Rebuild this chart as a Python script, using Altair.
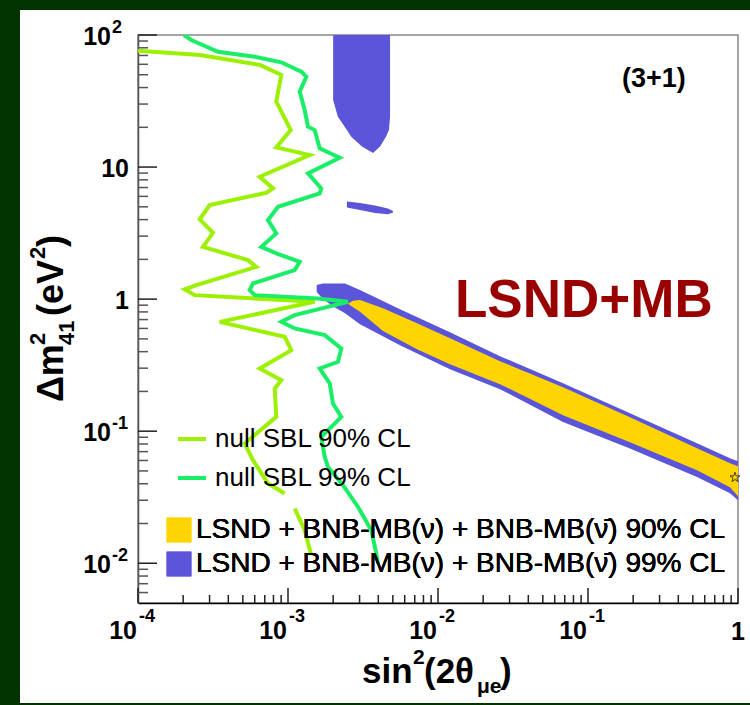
import altair as alt
import pandas as pd

FONT = "Liberation Sans"

# ---------------- data ----------------
# null SBL 90% CL contour (two pieces)
null90_x = [0.0001, 0.0002591, 0.000651, 0.0009023, 0.0008356, 0.001042, 0.0008356, 0.001395,
            0.000648, 0.0007943, 0.0007168, 0.0003006, 0.0002579, 0.0003162, 0.0002712, 0.0005412,
            0.0006146, 0.0002447, 0.0002048, 0.0002388, 0.001507, 0.0003505, 0.0009506, 0.001052,
            0.000648, 0.0009023, 0.0008154, 0.0008356, 0.0005145, 0.0005843, 0.0007356, 0.0009506]
null90_y = [76.05, 70.55, 59.27, 49.77, 31.24, 19.07, 14.10, 12.33,
            8.444, 6.896, 6.388, 5.154, 4.016, 3.179, 2.490, 1.975,
            1.756, 1.277, 1.184, 1.072, 0.9539, 0.6730, 0.5181, 0.4108,
            0.2985, 0.2434, 0.2107, 0.1283, 0.08068, 0.0603, 0.04016, 0.03373]
null90b_x = [0.001108, 0.001292, 0.00143]
null90b_y = [0.02597, 0.01778, 0.0115]

# null SBL 99% CL contour
null99_x = [0.0002026, 0.0002266, 0.0003415, 0.0005998, 0.0009023, 0.001227, 0.001324, 0.001197,
            0.001292, 0.001359, 0.001507, 0.001627, 0.002211, 0.001359, 0.001667, 0.001627,
            0.0008577, 0.0007356, 0.0008356, 0.0006637, 0.0008356, 0.001197, 0.001108, 0.0005843,
            0.0005555, 0.0005998, 0.001585, 0.002512, 0.001108, 0.0009023, 0.001108, 0.001757,
            0.002266, 0.002154, 0.001627, 0.001897, 0.001995, 0.002266, 0.001667, 0.001757,
            0.001848, 0.002326, 0.002929, 0.003592, 0.003879, 0.003981]
null99_y = [100, 91.64, 74.72, 68.48, 62.13, 52.72, 48.32, 37.20,
            27.03, 20.20, 19.07, 13.86, 11.76, 8.960, 6.896, 6.322,
            5.003, 3.967, 3.146, 2.490, 2.219, 1.917, 1.658, 1.315,
            1.170, 1.072, 1.012, 0.9539, 0.7565, 0.6730, 0.5998, 0.5337,
            0.4232, 0.3350, 0.2985, 0.2298, 0.1621, 0.1283, 0.09052, 0.06387,
            0.05364, 0.03899, 0.02669, 0.01778, 0.01185, 0.00995]

# LSND + MB allowed band, 99% CL
band99_x = [0.001553, 0.001711, 0.001995, 0.002399, 0.003020, 0.005580, 0.01202,
            0.02591, 0.06813, 0.1905, 0.5329, 0.8844, 1.0]
band99_lo = [1.130, 1.000, 0.885, 0.7832, 0.6466, 0.4482, 0.2949,
             0.2080, 0.1176, 0.0739, 0.04506, 0.03391, 0.0300]
band99_hi = [1.277, 1.315, 1.315, 1.315, 1.170, 0.8397, 0.5623,
             0.3700, 0.2310, 0.1369, 0.08111, 0.06243, 0.05925]
# LSND + MB allowed band, 90% CL
band90_x = [0.002512, 0.002713, 0.003020, 0.004299, 0.007244, 0.01202,
            0.02591, 0.06813, 0.1905, 0.5329, 0.8844, 1.0]
band90_lo = [0.9245, 0.8697, 0.8012, 0.5724, 0.4181, 0.3218,
             0.2270, 0.1322, 0.08253, 0.05064, 0.03765, 0.03218]
band90_hi = [0.9245, 0.974, 0.9827, 0.8547, 0.6580, 0.5064,
             0.3391, 0.2154, 0.1277, 0.07432, 0.05722, 0.05430]
# 99% CL island at high dm2
top99_y = [100, 32.2, 24.0, 19.1, 17.0, 14.3, 12.8]
top99_xl = [0.0020, 0.0020, 0.00215, 0.00247, 0.00264, 0.00311, 0.00369]
top99_xr = [0.00479, 0.00479, 0.00479, 0.00471, 0.00450, 0.00411, 0.00369]
# small 99% CL island near 5 eV^2
blob99_x = [0.00247, 0.00302, 0.00380, 0.00464, 0.00501]
blob99_lo = [4.93, 4.72, 4.48, 4.40, 4.52]
blob99_hi = [5.48, 5.34, 5.11, 4.85, 4.64]
# best fit point
best_x = [0.955]
best_y = [0.0446]

line_labels = ["null SBL 90% CL", "null SBL 99% CL"]
line_colors = ["#9CF000", "#1AEE66"]
region_labels = ["LSND + BNB-MB(\u03bd) + BNB-MB(\u03bd\u0304) 90% CL",
                 "LSND + BNB-MB(\u03bd) + BNB-MB(\u03bd\u0304) 99% CL"]
region_colors = ["#FFD400", "#5B55D9"]

x_tick_major = [1e-4, 1e-3, 1e-2, 1e-1, 1]
x_label_base = ["10", "10", "10", "10", "1"]
x_label_exp = ["-4", "-3", "-2", "-1", ""]
y_tick_major = [0.01, 0.1, 1, 10, 100]
y_label_base = ["10", "10", "1", "10", "10"]
y_label_exp = ["-2", "-1", "", "", "2"]
x_tick_minor = [m * 10.0 ** e for e in range(-4, 0) for m in range(2, 10)]
y_tick_minor = [m * 10.0 ** e for e in range(-3, 2) for m in range(2, 10) if 0.005 < m * 10.0 ** e < 100]

# ---------------- scales / helpers ----------------
x_scale = alt.Scale(type="log", domain=[1e-4, 1], nice=False)
y_scale = alt.Scale(type="log", domain=[0.005, 100], nice=False)
x_axis = alt.Axis(labels=False, ticks=False, grid=False, title=None, domainColor="#000000", domainWidth=1.5)
y_axis = alt.Axis(labels=False, ticks=False, grid=False, title=None, domainColor="#555555", domainWidth=1.5)


def X(f):
    return alt.X(f, type="quantitative", scale=x_scale, axis=x_axis)


def Y(f):
    return alt.Y(f, type="quantitative", scale=y_scale, axis=y_axis)


one = pd.DataFrame({"a": [0]})


def txt(text, x, y, size, weight="bold", angle=None, align="left", color="black"):
    kw = dict(text=text, fontSize=size, fontWeight=weight, align=align, baseline="alphabetic",
              color=color, font=FONT)
    if angle is not None:
        kw["angle"] = angle
    return alt.Chart(one).mark_text(**kw).encode(x=alt.value(x), y=alt.value(y))


region_scale = alt.Scale(domain=region_labels, range=region_colors)
region_legend = alt.Legend(title=None, orient="none", legendX=27, legendY=481, symbolType="square",
                           symbolSize=600, symbolStrokeWidth=0, symbolOpacity=1, labelFontSize=28,
                           labelFont=FONT, labelColor="black", labelOffset=3, rowPadding=6,
                           padding=0, labelLimit=1000)
line_legend = alt.Legend(title=None, orient="none", legendX=38, legendY=388, symbolType="stroke",
                         symbolSize=784, symbolStrokeWidth=4, labelFontSize=26, labelFont=FONT,
                         labelColor="black", labelOffset=7, rowPadding=10, padding=0, labelLimit=1000)

# ---------------- frames ----------------
strip_l = alt.Chart(one).mark_rect(color="#003300").encode(
    x=alt.value(-138), x2=alt.value(-118), y=alt.value(-35), y2=alt.value(670))
strip_t = alt.Chart(one).mark_rect(color="#003300").encode(
    x=alt.value(-138), x2=alt.value(612), y=alt.value(-35), y2=alt.value(-25))
strip_b = alt.Chart(one).mark_rect(color="#003300").encode(
    x=alt.value(-138), x2=alt.value(612), y=alt.value(668), y2=alt.value(670))

# ---------------- regions ----------------
b99 = pd.DataFrame({"x": band99_x, "lo": band99_lo, "hi": band99_hi, "region": region_labels[1]})
b90 = pd.DataFrame({"x": band90_x, "lo": band90_lo, "hi": band90_hi, "region": region_labels[0]})
t99 = pd.DataFrame({"y": top99_y, "xl": top99_xl, "xr": top99_xr, "region": region_labels[1]})
s99 = pd.DataFrame({"x": blob99_x, "lo": blob99_lo, "hi": blob99_hi, "region": region_labels[1]})


def fill():
    return alt.Fill("region:N", scale=region_scale, legend=region_legend)


band99 = alt.Chart(b99).mark_area(clip=True).encode(x=X("x"), y=Y("lo"), y2="hi", fill=fill())
top99 = alt.Chart(t99).mark_area(clip=True, orient="horizontal").encode(
    y=Y("y"), x=X("xl"), x2="xr", fill=fill())
blob99 = alt.Chart(s99).mark_area(clip=True).encode(x=X("x"), y=Y("lo"), y2="hi", fill=fill())
band90 = alt.Chart(b90).mark_area(clip=True).encode(x=X("x"), y=Y("lo"), y2="hi", fill=fill())

# ---------------- lines ----------------
lines_df = pd.concat([
    pd.DataFrame({"x": null90_x, "y": null90_y, "curve": line_labels[0], "seg": "a"}),
    pd.DataFrame({"x": null90b_x, "y": null90b_y, "curve": line_labels[0], "seg": "b"}),
    pd.DataFrame({"x": null99_x, "y": null99_y, "curve": line_labels[1], "seg": "c"}),
], ignore_index=True)
lines_df["ord"] = range(len(lines_df))
lines = alt.Chart(lines_df).mark_line(strokeWidth=4, clip=True).encode(
    x=X("x"), y=Y("y"),
    stroke=alt.Stroke("curve:N", scale=alt.Scale(domain=line_labels, range=line_colors), legend=line_legend),
    detail="seg:N", order="ord:Q")

star_path = ("M0,-1L0.2245,-0.309L0.951,-0.309L0.363,0.118L0.588,0.809L0,0.382"
             "L-0.588,0.809L-0.363,0.118L-0.951,-0.309L-0.2245,-0.309Z")
best = alt.Chart(pd.DataFrame({"x": best_x, "y": best_y})).mark_point(
    shape=star_path, size=110, filled=False, stroke="black", strokeWidth=1).encode(x=X("x"), y=Y("y"))

# ---------------- ticks (inward) ----------------
tick_col = "#222222"
xt_major = alt.Chart(pd.DataFrame({"v": x_tick_major})).mark_rule(color=tick_col, strokeWidth=1.5).encode(
    x=X("v"), y=alt.value(568), y2=alt.value(553))
xt_minor = alt.Chart(pd.DataFrame({"v": x_tick_minor})).mark_rule(color=tick_col, strokeWidth=1.5).encode(
    x=X("v"), y=alt.value(568), y2=alt.value(560))
yt_major = alt.Chart(pd.DataFrame({"v": y_tick_major})).mark_rule(color=tick_col, strokeWidth=1.5).encode(
    y=Y("v"), x=alt.value(0), x2=alt.value(19))
yt_minor = alt.Chart(pd.DataFrame({"v": y_tick_minor})).mark_rule(color="#555555", strokeWidth=1.5).encode(
    y=Y("v"), x=alt.value(0), x2=alt.value(10))

# ---------------- tick labels ----------------
xl = pd.DataFrame({"v": x_tick_major, "base": x_label_base, "exp": x_label_exp})
yl = pd.DataFrame({"v": y_tick_major, "base": y_label_base, "exp": y_label_exp})
lab = dict(font=FONT, fontWeight="bold", color="black", baseline="alphabetic")

x_base = alt.Chart(xl).transform_filter("datum.exp != ''").mark_text(
    align="right", dx=-1, fontSize=25, **lab).encode(x=X("v"), y=alt.value(604), text="base:N")
x_exp = alt.Chart(xl).transform_filter("datum.exp != ''").mark_text(
    align="left", dx=1, fontSize=18, **lab).encode(x=X("v"), y=alt.value(587), text="exp:N")
x_plain = alt.Chart(xl).transform_filter("datum.exp == ''").mark_text(
    align="center", fontSize=25, **lab).encode(x=X("v"), y=alt.value(605), text="base:N")
y_base = alt.Chart(yl).transform_filter("datum.exp != ''").mark_text(
    align="right", dy=9.5, fontSize=25, **lab).encode(y=Y("v"), x=alt.value(-27), text="base:N")
y_exp = alt.Chart(yl).transform_filter("datum.exp != ''").mark_text(
    align="left", dy=-2.5, fontSize=18, **lab).encode(y=Y("v"), x=alt.value(-26), text="exp:N")
y_plain = alt.Chart(yl).transform_filter("datum.exp == ''").mark_text(
    align="right", dy=9.5, fontSize=25, **lab).encode(y=Y("v"), x=alt.value(-9), text="base:N")

# ---------------- titles / annotations ----------------
texts = [
    # x title: sin^2(2 theta_mu e)
    txt("sin", 224, 648, 35),
    txt("2", 275, 629, 21),
    txt("(2\u03b8", 286, 648, 35),
    txt("\u03bce", 339, 658, 21),
    txt(")", 362, 648, 35),
    # y title: Delta m^2_41 (eV^2)
    txt("\u0394m", -75, 367, 36, angle=270),
    txt("2", -93, 310, 22, angle=270),
    txt("41", -64, 310, 22, angle=270),
    txt("(eV", -75, 281, 36, angle=270),
    txt("2", -93, 224, 22, angle=270),
    txt(")", -75, 212, 36, angle=270),
    # annotations
    txt("LSND+MB", 317, 282, 53, color="#990000"),
    txt("(3+1)", 484, 52, 27),
]

chart = alt.layer(
    strip_l, strip_t, strip_b,
    band99, top99, blob99, band90,
    lines, best,
    xt_major, xt_minor, yt_major, yt_minor,
    x_base, x_exp, x_plain, y_base, y_exp, y_plain,
    *texts,
).resolve_legend(fill="independent", stroke="independent").properties(
    width=600, height=568, background="white",
    padding={"left": 138, "top": 35, "right": 12, "bottom": 102},
    autosize=alt.AutoSizeParams(type="none"),
).configure(font=FONT).configure_view(stroke="#888888", strokeWidth=1.5)

chart.save("out.html", embed_options={"renderer": "svg", "actions": False})
